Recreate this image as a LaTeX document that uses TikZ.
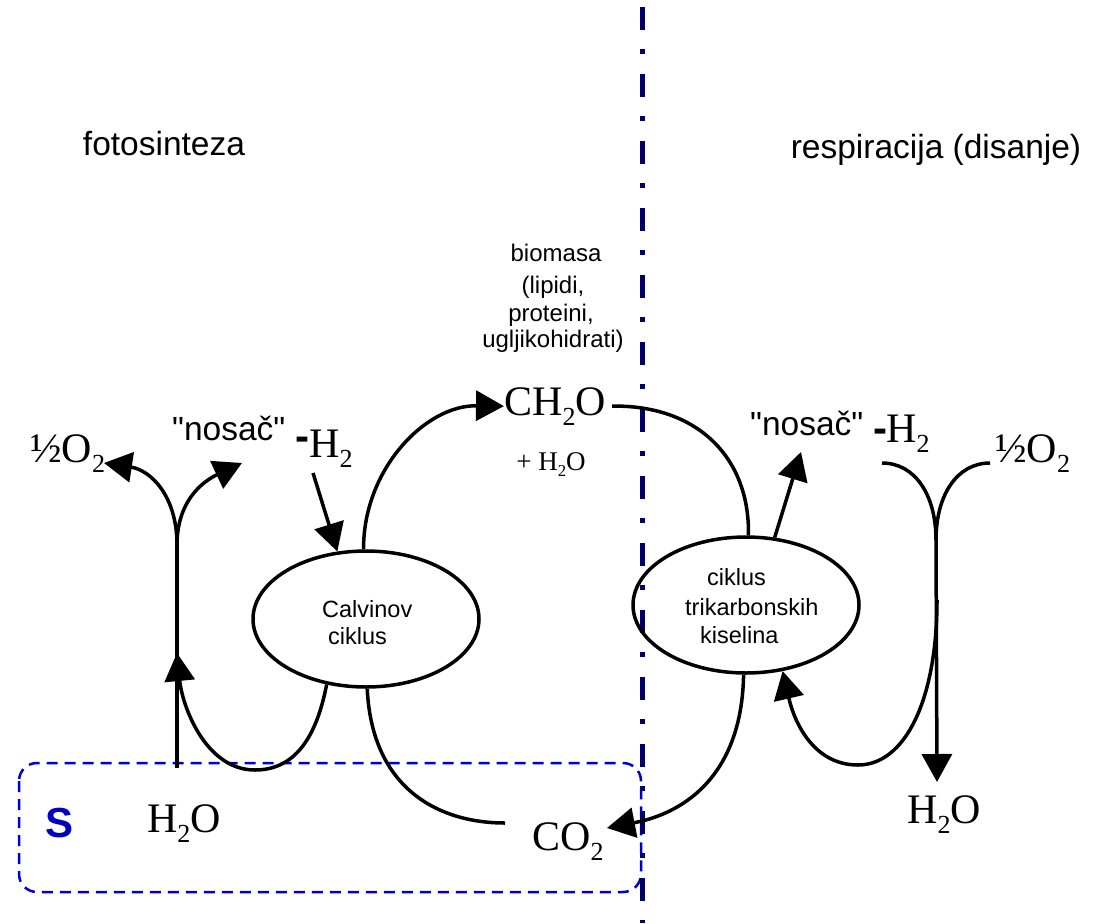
\documentclass[tikz,border=0pt]{standalone}
\usepackage{fontspec}
\setmainfont{Liberation Serif}
\newfontfamily\arialf{Liberation Sans}
\usepackage{graphicx}
\usetikzlibrary{arrows.meta,shapes.geometric}
\definecolor{divnavy}{RGB}{0,0,102}
\definecolor{boxblue}{RGB}{0,0,204}
\definecolor{sblue}{RGB}{0,0,190}
\newcommand\chs[1]{\raisebox{-0.24em}{\scalebox{0.62}{#1}}}
\begin{document}
\begin{tikzpicture}[x=1pt,y=-1pt,
  hd/.style={inner sep=0, font=\arialf\fontsize{33.5}{40}\selectfont},
  biotxt/.style={inner sep=0, font=\arialf\fontsize{24}{29}\selectfont},
  celltxt/.style={inner sep=0, font=\arialf\fontsize{23.5}{28}\selectfont},
  chem/.style={inner sep=0, font=\fontsize{42}{50}\selectfont},
  chemsm/.style={inner sep=0, font=\fontsize{27}{32}\selectfont},
  dashmark/.style={inner sep=0, font=\arialf\bfseries\fontsize{42}{50}\selectfont},
  cyc/.style={ellipse, draw, line width=3.5pt, minimum width=226pt, minimum height=136pt, inner sep=0},
  ln/.style={line width=3.5pt},
  arr/.style={line width=3.5pt, -{Triangle[length=28pt,width=30pt]}},
]
\useasboundingbox (0,0) rectangle (1099,923);

% system box
\draw[boxblue, line width=2.5pt, dash pattern=on 11pt off 7pt, rounded corners=18pt] (19,763) rectangle (641,892);
\node[inner sep=0, font=\arialf\bfseries\fontsize{42}{50}\selectfont, text=sblue, anchor=base] (S) at (60,837) {S};

% divider
\draw[divnavy, line width=5pt, dash pattern=on 23pt off 19pt on 5pt off 20pt, dash phase=60pt] (642,0) -- (642,923);

% headings
\node[hd, anchor=base] (foto) at (164,155) {fotosinteza};
\node[hd, anchor=base] (resp) at (936,158) {respiracija (disanje)};

% biomass
\node[biotxt, anchor=base] (bio1) at (556,261) {biomasa};
\node[biotxt, anchor=base] (bio2) at (553,293) {(lipidi,};
\node[biotxt, anchor=base] (bio3) at (551,321) {proteini,};
\node[biotxt, anchor=base] (bio4) at (553,347) {ugljikohidrati)};

\node[chem, anchor=base] (ch2o) at (555,415) {CH\chs{2}O};
\node[chemsm, anchor=base] (plush) at (551,470) {+ H\chs{2}O};

% left labels
\node[chem, anchor=base west] (lo2) at (30,462) {½O\chs{2}};
\node[hd, anchor=base west] (nos1) at (172,440) {"nosač"};
\node[dashmark, anchor=base west] (hy1) at (295,450) {-};
\node[chem, anchor=base west] (h2a) at (309,457) {H\chs{2}};

% right labels
\node[hd, anchor=base west] (nos2) at (750,435) {"nosač"};
\node[dashmark, anchor=base west] (hy2) at (873,442) {-};
\node[chem, anchor=base west] (h2b) at (886,442) {H\chs{2}};
\node[chem, anchor=base west] (ro2) at (995,462) {½O\chs{2}};

% bottom labels
\node[chem, anchor=base] (h2ol) at (184,832) {H\chs{2}O};
\node[chem, anchor=base] (co2) at (568,850) {CO\chs{2}};
\node[chem, anchor=base] (h2or) at (944,823) {H\chs{2}O};

% cycles
\node[cyc] (calvin) at (366,619) {};
\node[celltxt, anchor=base west] (cal1) at (322,617) {Calvinov};
\node[celltxt, anchor=base west] (cal2) at (328,644) {ciklus};

\node[cyc] (tca) at (746,605) {};
\node[celltxt, anchor=base west] (tca1) at (707,585) {ciklus};
\node[celltxt, anchor=base west] (tca2) at (685,615) {trikarbonskih};
\node[celltxt, anchor=base west] (tca3) at (700,643) {kiselina};

% coordinates
\coordinate (lfork) at (177,545);
\coordinate (lbot) at (177,768);
\coordinate (lup) at (177,653);
\coordinate (lo2tip) at (104,463);
\coordinate (lnostip) at (242,463);
\coordinate (h2start) at (313,473);
\coordinate (co2end) at (505,823);
\coordinate (co2tip) at (607,828);
\coordinate (rfork) at (936,540);
\coordinate (rl) at (882,463);
\coordinate (rr) at (990,463);
\coordinate (rtip) at (937,782);
\coordinate (rloop) at (937,600);
\coordinate (rnostip) at (801,452);

% left side connectors
\draw[ln] (lbot) -- (lfork);
\draw[arr] (lfork) .. controls (177,495) and (150,470) .. (lo2tip);
\draw[arr] (lfork) .. controls (177,495) and (210,478) .. (lnostip);
\draw[arr] (h2start) -- (calvin.113);
\draw[arr] (calvin.92) .. controls (363,470) and (425,405) .. (ch2o.west);
\draw[arr] (calvin.-121) .. controls (315,745) and (290,770) .. (255,770) .. controls (205,770) and (182,705) .. (lup);
\draw[ln] (calvin.-89) .. controls (372,790) and (440,823) .. (co2end);

% right side connectors
\draw[ln, shorten <=6pt] (ch2o.east) .. controls (700,405) and (750,460) .. (tca.88);
\draw[arr] (tca.67) -- (rnostip);
\draw[arr] (tca.-92) .. controls (742,770) and (690,812) .. (co2tip);
\draw[ln] (rl) .. controls (915,463) and (936,495) .. (rfork);
\draw[ln] (rr) .. controls (957,463) and (936,495) .. (rfork);
\draw[arr] (rfork) -- (rtip);
\draw[arr] (rloop) .. controls (937,700) and (905,765) .. (858,765) .. controls (815,765) and (795,725) .. (tca.-61);
\end{tikzpicture}
\end{document}
